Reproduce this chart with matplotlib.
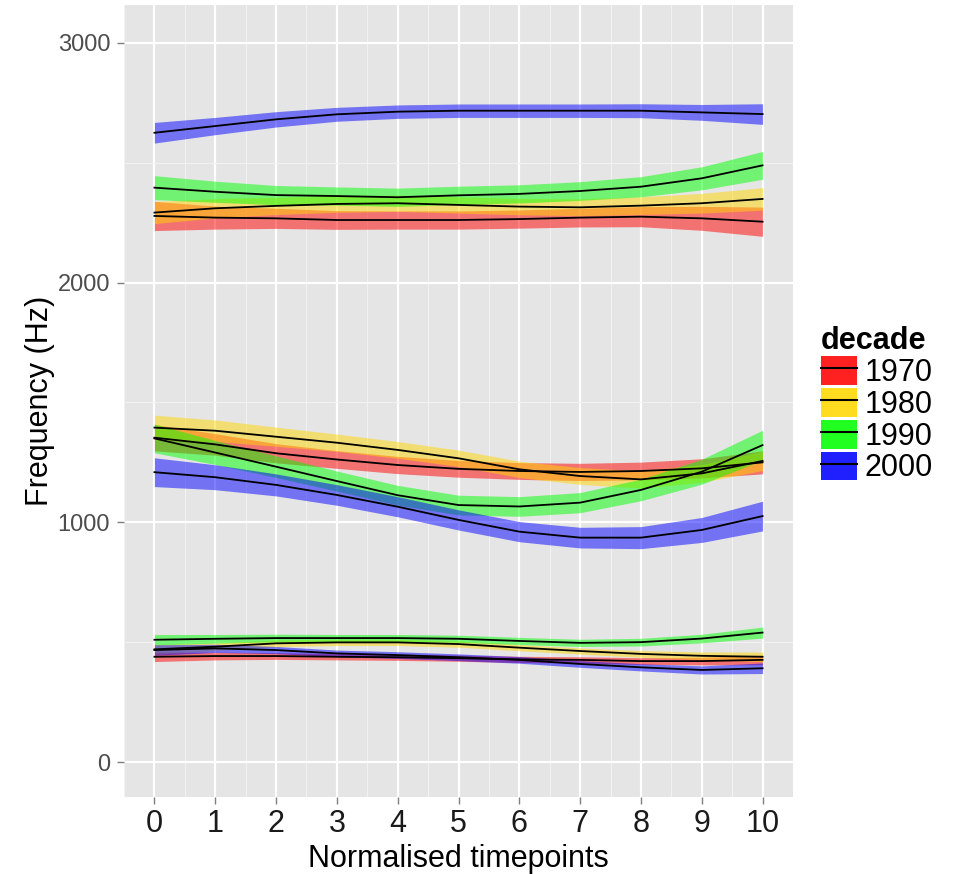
import matplotlib
matplotlib.use("Agg")
import matplotlib.pyplot as plt
import numpy as np
from matplotlib.patches import Patch
from matplotlib.lines import Line2D
from matplotlib.ticker import MultipleLocator

plt.rcParams['font.family'] = ['Liberation Sans', 'DejaVu Sans']

# -----------------------
# DATOS
# -----------------------
timepoints = [0, 1, 2, 3, 4, 5, 6, 7, 8, 9, 10]
decades = ['1970', '1980', '1990', '2000']
decade_colors = ['#FF0000', '#FFD700', '#00FF00', '#0000FF']

# F1
f1_1970 = [439, 442, 442, 439, 437, 433, 428, 426, 421, 421, 426]
f1_1980 = [470, 481, 495, 499, 499, 492, 477, 463, 451, 443, 439]
f1_1990 = [510, 514, 517, 517, 517, 514, 505, 497, 500, 515, 540]
f1_2000 = [467, 474, 467, 453, 446, 437, 426, 409, 395, 384, 391]
f1_1970_se = [20, 16, 14, 13, 13, 13, 13, 13, 14, 16, 20]
f1_1980_se = [20, 16, 14, 13, 13, 13, 13, 13, 14, 16, 20]
f1_1990_se = [22, 18, 16, 15, 15, 15, 15, 15, 16, 18, 23]
f1_2000_se = [22, 17, 15, 14, 14, 14, 14, 14, 15, 17, 22]

# F2
f2_1970 = [1353, 1325, 1288, 1262, 1239, 1223, 1214, 1210, 1214, 1225, 1250]
f2_1980 = [1395, 1382, 1357, 1332, 1302, 1267, 1221, 1193, 1179, 1204, 1256]
f2_1990 = [1350, 1291, 1232, 1172, 1113, 1072, 1066, 1082, 1135, 1211, 1322]
f2_2000 = [1209, 1188, 1156, 1114, 1065, 1010, 961, 936, 936, 968, 1026]
f2_1970_se = [55, 45, 40, 37, 36, 35, 35, 36, 37, 40, 48]
f2_1980_se = [52, 45, 40, 36, 35, 34, 34, 35, 36, 37, 40]
f2_1990_se = [60, 50, 45, 42, 41, 41, 41, 42, 45, 52, 62]
f2_2000_se = [60, 52, 46, 43, 42, 42, 42, 43, 46, 52, 62]

# F3
f3_1970 = [2278, 2271, 2268, 2261, 2261, 2261, 2265, 2271, 2275, 2268, 2254]
f3_1980 = [2292, 2310, 2320, 2328, 2331, 2324, 2317, 2314, 2321, 2331, 2349]
f3_1990 = [2396, 2379, 2365, 2361, 2356, 2364, 2370, 2382, 2400, 2435, 2489]
f3_2000 = [2625, 2653, 2681, 2702, 2713, 2717, 2717, 2717, 2717, 2710, 2703]
f3_1970_se = [61, 48, 42, 39, 38, 38, 38, 39, 42, 50, 61]
f3_1980_se = [46, 40, 36, 35, 34, 34, 34, 35, 37, 41, 47]
f3_1990_se = [50, 44, 40, 38, 38, 38, 38, 39, 42, 48, 58]
f3_2000_se = [43, 36, 32, 29, 28, 28, 28, 28, 29, 33, 43]

formants = [
    [(f1_1970, f1_1970_se), (f1_1980, f1_1980_se), (f1_1990, f1_1990_se), (f1_2000, f1_2000_se)],
    [(f2_1970, f2_1970_se), (f2_1980, f2_1980_se), (f2_1990, f2_1990_se), (f2_2000, f2_2000_se)],
    [(f3_1970, f3_1970_se), (f3_1980, f3_1980_se), (f3_1990, f3_1990_se), (f3_2000, f3_2000_se)],
]

# -----------------------
# FIGURA
# -----------------------
fig = plt.figure(figsize=(9.71, 8.74), dpi=100)
ax = fig.add_axes([124 / 971, 1 - 797 / 874, (793 - 124) / 971, (797 - 5) / 874])
ax.set_facecolor('#E5E5E5')

x = np.array(timepoints)
for groups in formants:
    for (vals, se), col in zip(groups, decade_colors):
        vals = np.array(vals)
        se = np.array(se)
        ax.fill_between(x, vals - se, vals + se, color=col, alpha=0.5, linewidth=0)
        ax.plot(x, vals, color='black', lw=1.3)

ax.set_xlim(-0.5, 10.5)
ax.set_ylim(-146, 3158)
ax.set_xticks(range(0, 11))
ax.set_yticks([0, 1000, 2000, 3000])
ax.xaxis.set_minor_locator(MultipleLocator(0.5))
ax.yaxis.set_minor_locator(MultipleLocator(500))
ax.grid(which='major', color='white', lw=1.6)
ax.grid(which='minor', color='#F2F2F2', lw=0.8)
ax.set_axisbelow(True)
for s in ax.spines.values():
    s.set_visible(False)

ax.tick_params(which='major', length=5, width=1, color='#7F7F7F')
ax.tick_params(which='minor', length=0)
ax.tick_params(axis='x', labelsize=22, labelcolor='#1A1A1A', pad=4)
ax.tick_params(axis='y', labelsize=17, labelcolor='#4D4D4D', pad=5)

ax.set_xlabel('Normalised timepoints', fontsize=22, labelpad=3)
ax.set_ylabel('Frequency (Hz)', fontsize=22, labelpad=2)

handles = [(Patch(facecolor=c, alpha=0.875, edgecolor='none'),
            Line2D([], [], color='black', lw=1.5)) for c in decade_colors]
leg = fig.legend(handles, decades, loc='center left', bbox_to_anchor=(0.830, 0.537),
                 frameon=False, fontsize=22, title='decade',
                 title_fontproperties={'weight': 'bold', 'size': 22},
                 handlelength=1.18, handleheight=1.08, labelspacing=0,
                 handletextpad=0.25, borderpad=0, alignment='left')

fig.savefig('out.png', dpi=100)
